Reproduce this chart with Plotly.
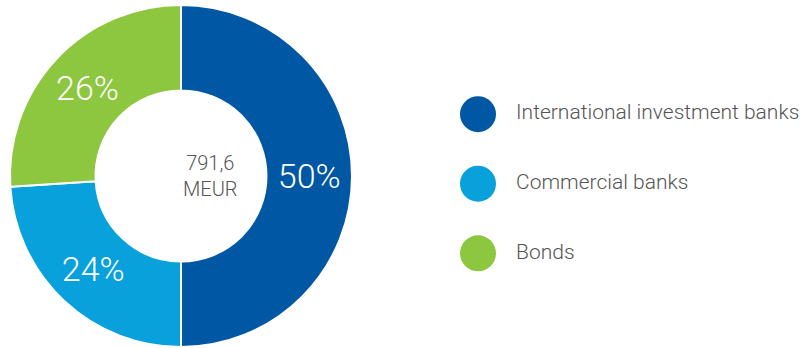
import plotly.graph_objects as go

categories = ["International investment banks", "Commercial banks", "Bonds"]
shares = [50, 24, 26]
colors = ["#0057A4", "#08A1DC", "#8DC63F"]
total_value = "791,6"
total_unit = "MEUR"

FONT = "Roboto"
W, H = 801, 348

fig = go.Figure()
fig.add_trace(go.Pie(
    values=shares,
    labels=categories,
    sort=False,
    direction="clockwise",
    rotation=0,
    hole=0.5,
    marker=dict(colors=colors, line=dict(color="white", width=2)),
    texttemplate="%{value}%",
    textposition="inside",
    insidetextorientation="horizontal",
    textfont=dict(family=FONT, size=34, color="white", weight=300),
    domain=dict(x=[10 / W, 352 / W], y=[0, 344 / H]),
    showlegend=False,
    hoverinfo="label+percent",
))

# custom legend
idx = list(range(len(categories)))
fig.add_trace(go.Scatter(
    x=[0] * len(categories),
    y=idx,
    mode="markers+text",
    marker=dict(size=36, color=colors),
    text=["  \u2009" + c for c in categories],
    textposition="middle right",
    textfont=dict(family=FONT, size=21, color="#555555", weight=300),
    showlegend=False,
    hoverinfo="skip",
    xaxis="x", yaxis="y",
))

fig.add_annotation(
    text=f"{total_value}<br>{total_unit}",
    x=181 / W, y=1 - 176 / H, xref="paper", yref="paper",
    showarrow=False,
    font=dict(family=FONT, size=20, color="#555555", weight=300),
    align="center",
)

fig.update_layout(
    width=W, height=H,
    margin=dict(l=0, r=0, t=0, b=0),
    paper_bgcolor="white", plot_bgcolor="rgba(0,0,0,0)",
    xaxis=dict(range=[-478, W - 478], visible=False, domain=[0, 1], fixedrange=True),
    yaxis=dict(range=[3.36, -1.64], visible=False, domain=[0, 1], fixedrange=True),
)

fig.write_html("out.html", config={"displayModeBar": False},
               post_script="document.body.style.margin='0px';")
